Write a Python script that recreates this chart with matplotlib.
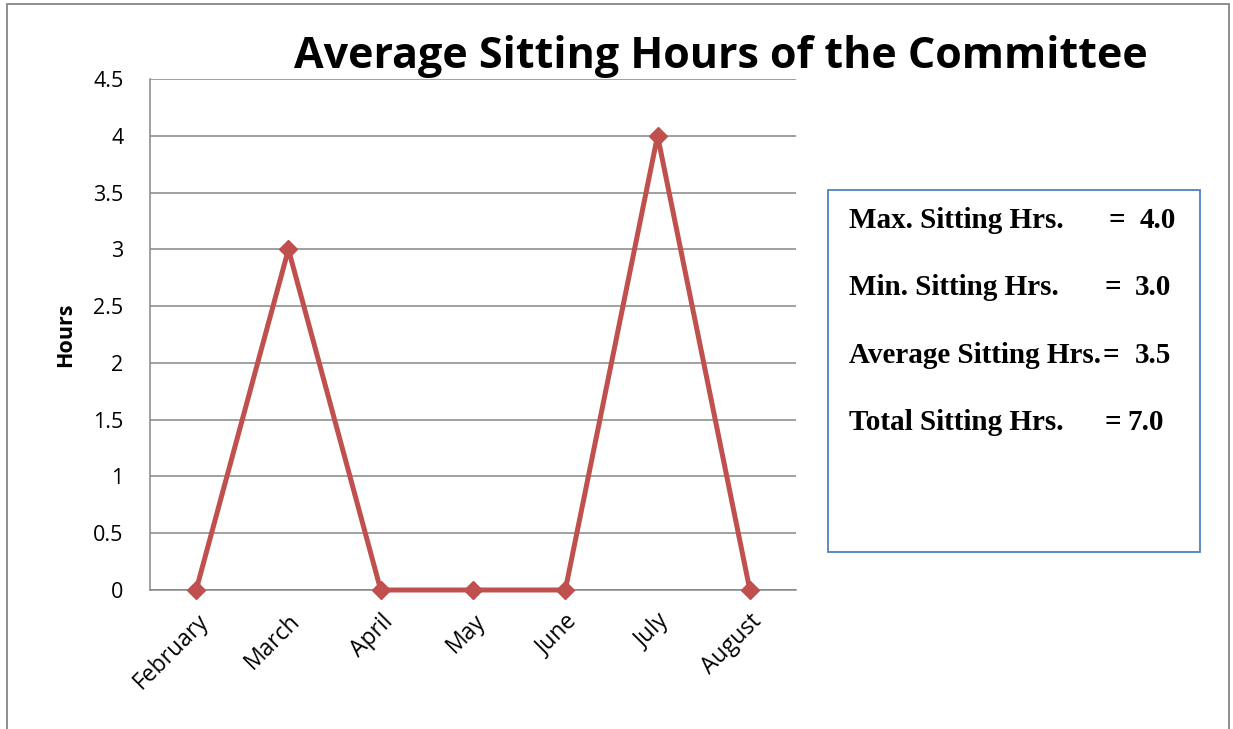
"""Average sitting hours of the committee, month by month, with a summary box."""
import matplotlib
matplotlib.use("Agg")
import matplotlib.pyplot as plt
from matplotlib.patches import Rectangle

MONTHS = ["February", "March", "April", "May", "June", "July", "August"]
HOURS = [0, 3, 0, 0, 0, 4, 0]
Y_TICKS = [0, 0.5, 1, 1.5, 2, 2.5, 3, 3.5, 4, 4.5]

SUMMARY_LABELS = ["Max. Sitting Hrs.", "Min. Sitting Hrs.",
                  "Average Sitting Hrs.", "Total Sitting Hrs."]
SUMMARY_VALUES = ["4.0", "3.0", "3.5", "7.0"]

LINE_RED = "#C0504D"
GRID_GRAY = "#868686"
BOX_BLUE = "#4F81BD"

W, H = 1233, 729


def fx(px):
    return px / W


def fy(py):
    return 1 - py / H


def main():
    plt.rcParams["font.family"] = ["Open Sans", "DejaVu Sans"]
    fig = plt.figure(figsize=(W / 100, H / 100), dpi=100)
    ax = fig.add_axes([fx(150), fy(590), fx(796) - fx(150), fy(79) - fy(590)])

    x = list(range(len(MONTHS)))
    ax.plot(x, HOURS, color=LINE_RED, linewidth=3.6, marker="D",
            markersize=9, markerfacecolor=LINE_RED, markeredgecolor=LINE_RED,
            zorder=3, clip_on=False)

    ax.set_xlim(-0.5, len(MONTHS) - 0.5)
    ax.set_ylim(0, 4.5)
    ax.set_yticks(Y_TICKS)
    ax.set_yticklabels([f"{v:g}" for v in Y_TICKS], fontsize=15.5)
    ax.set_xticks(x)
    ax.set_xticklabels(MONTHS, fontsize=16.5, rotation=45, ha="right",
                       rotation_mode="anchor")
    ax.tick_params(axis="y", length=0, pad=19)
    ax.tick_params(axis="x", length=0, pad=14)
    ax.yaxis.grid(True, color=GRID_GRAY, linewidth=1.1)
    ax.set_axisbelow(True)
    for side in ("top", "right"):
        ax.spines[side].set_visible(False)
    for side in ("left", "bottom"):
        ax.spines[side].set_color(GRID_GRAY)
        ax.spines[side].set_linewidth(1.1)

    ax.set_ylabel("Hours", fontsize=15.5, fontweight="bold", labelpad=12)

    fig.text(fx(721), fy(57), "Average Sitting Hours of the Committee",
             ha="center", va="center", fontsize=31, fontweight="bold")

    # outer chart frame (bottom edge runs off the picture)
    fig.patches.append(Rectangle((fx(7), -0.05), fx(1229) - fx(7), fy(4) + 0.05,
                                 transform=fig.transFigure, fill=False,
                                 edgecolor=GRID_GRAY, linewidth=1.3))

    # summary box
    fig.patches.append(Rectangle((fx(828), fy(552)), fx(1200) - fx(828),
                                 fy(190) - fy(552), transform=fig.transFigure,
                                 fill=False, edgecolor=BOX_BLUE, linewidth=1.3))
    baselines = [228, 295, 363, 430]
    eq_x = [1108, 1105, 1103, 1105]
    value_x = [1140, 1135, 1135, 1127]
    serif = dict(fontsize=21, fontweight="bold", family="Liberation Serif",
                 va="baseline", ha="left")
    for label, value, by, ex, vx in zip(SUMMARY_LABELS, SUMMARY_VALUES,
                                        baselines, eq_x, value_x):
        fig.text(fx(849), fy(by), label, **serif)
        fig.text(fx(ex), fy(by), "=", **serif)
        fig.text(fx(vx), fy(by), value, **serif)

    fig.savefig("out.png", dpi=100)


if __name__ == "__main__":
    main()
